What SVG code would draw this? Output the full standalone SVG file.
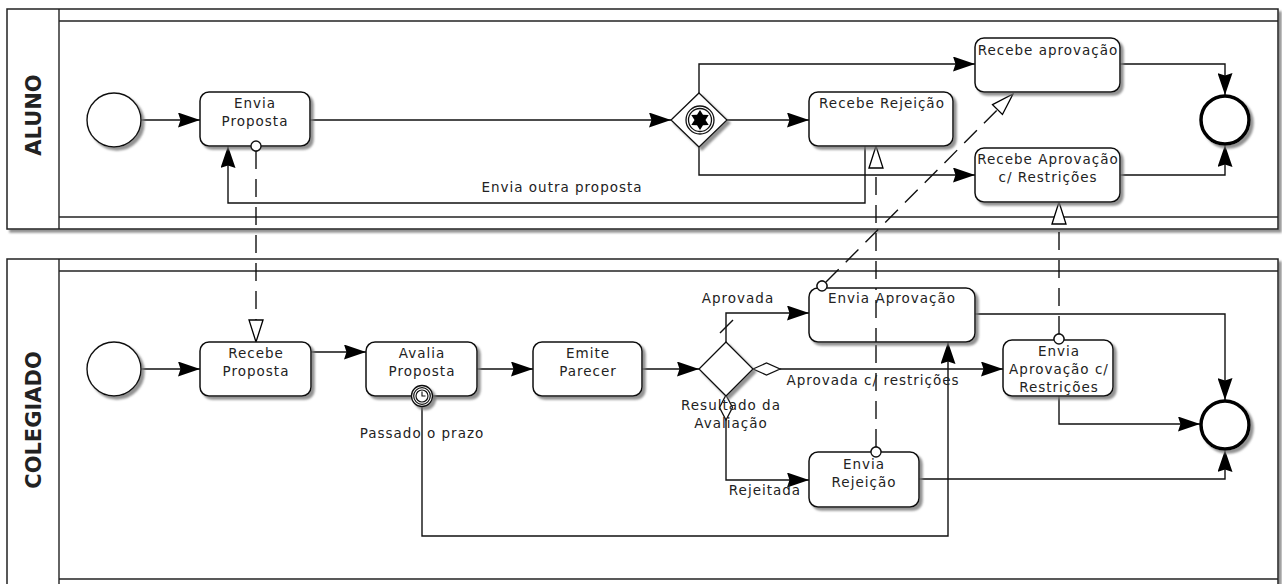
<svg xmlns="http://www.w3.org/2000/svg" width="1282" height="584" viewBox="0 0 1282 584">
<defs>
<filter id="sh" x="-20%" y="-20%" width="150%" height="150%">
<feDropShadow dx="3" dy="3" stdDeviation="1.2" flood-color="#777" flood-opacity="0.8"/>
</filter>
<marker id="arr" viewBox="0 0 22 15" refX="22" refY="7.5" markerWidth="22" markerHeight="15" markerUnits="userSpaceOnUse" orient="auto">
<path d="M0,0 L22,7.5 L0,15 L2.5,7.5 z" fill="#000"/>
</marker>
<marker id="msg" viewBox="0 0 24 16" refX="23" refY="8" markerWidth="24" markerHeight="16" markerUnits="userSpaceOnUse" orient="auto">
<path d="M1,1 L23,8 L1,15 z" fill="#fff" stroke="#000" stroke-width="1.3"/>
</marker>
</defs>
<style>
.pool{fill:#fff;stroke:#222;stroke-width:1.5}
.ln{fill:none;stroke:#222;stroke-width:1.4}
.task{fill:#fff;stroke:#111;stroke-width:1.5}
.flow{fill:none;stroke:#111;stroke-width:1.4}
.msgf{fill:none;stroke:#111;stroke-width:1.4;stroke-dasharray:18 10}
.t{font-family:"DejaVu Sans",sans-serif;font-size:13.5px;letter-spacing:1px;fill:#222;text-anchor:middle}
.lab{font-family:"DejaVu Sans",sans-serif;font-size:21px;font-weight:bold;fill:#222;text-anchor:middle}
.dot{fill:#fff;stroke:#111;stroke-width:1.3}
</style>
<rect width="1282" height="584" fill="#fff"/>
<!-- Pools -->
<g id="pool-aluno">
<rect class="pool" x="7" y="9" width="1271" height="220" filter="url(#sh)"/>
<line class="ln" x1="59" y1="9" x2="59" y2="229"/>
<line class="ln" x1="59" y1="21" x2="1278" y2="21"/>
<line class="ln" x1="59" y1="217" x2="1278" y2="217"/>
<text class="lab" transform="translate(41,115) rotate(-90)">ALUNO</text>
</g>
<g id="pool-colegiado">
<rect class="pool" x="7" y="259" width="1271" height="340" filter="url(#sh)"/>
<line class="ln" x1="59" y1="259" x2="59" y2="584"/>
<line class="ln" x1="59" y1="271" x2="1278" y2="271"/>
<line class="ln" x1="59" y1="579" x2="1278" y2="579"/>
<text class="lab" transform="translate(41,420) rotate(-90)">COLEGIADO</text>
</g>
<!-- Connectors -->
<g id="connectors">
<path class="flow" d="M141,120 H200" marker-end="url(#arr)"/>
<path class="flow" d="M310,120 H671" marker-end="url(#arr)"/>
<path class="flow" d="M699,93 V64 H975" marker-end="url(#arr)"/>
<path class="flow" d="M727,120 H809" marker-end="url(#arr)"/>
<path class="flow" d="M699,147 V175 H975" marker-end="url(#arr)"/>
<path class="flow" d="M865,146 V203 H228 V146" marker-end="url(#arr)"/>
<path class="flow" d="M1120,64 H1225 V95" marker-end="url(#arr)"/>
<path class="flow" d="M1120,175 H1225 V145" marker-end="url(#arr)"/>
<path class="flow" d="M141,369 H200" marker-end="url(#arr)"/>
<path class="flow" d="M311,352 H366" marker-end="url(#arr)"/>
<path class="flow" d="M477,369 H533" marker-end="url(#arr)"/>
<path class="flow" d="M642,369 H699" marker-end="url(#arr)"/>
<path class="flow" d="M726,342 V313 H809" marker-end="url(#arr)"/>
<line class="flow" x1="720" y1="333" x2="733" y2="320"/>
<path class="flow" d="M780,369 H1003" marker-end="url(#arr)"/>
<path d="M753,369 L766.5,363 L780,369 L766.5,375 z" fill="#fff" stroke="#111" stroke-width="1.3"/>
<path class="flow" d="M726,420 V480 H809" marker-end="url(#arr)"/>
<path d="M726,395 L732.5,407.5 L726,420 L719.5,407.5 z" fill="#fff" stroke="#111" stroke-width="1.3"/>
<path class="flow" d="M422,407 V536 H948 V342" marker-end="url(#arr)"/>
<path class="flow" d="M975,314 H1225 V400" marker-end="url(#arr)"/>
<path class="flow" d="M919,479 H1225 V450" marker-end="url(#arr)"/>
<path class="flow" d="M1059,396 V424 H1200" marker-end="url(#arr)"/>
<!-- message flows -->
<path class="msgf" d="M256,151 V342" marker-end="url(#msg)"/>
<path class="msgf" d="M876,447 V146" marker-end="url(#msg)"/>
<path class="msgf" d="M826,282 L1013,94" marker-end="url(#msg)"/>
<path class="msgf" d="M1059,334 V202" marker-end="url(#msg)"/>
<circle class="dot" cx="256" cy="146" r="5"/>
<circle class="dot" cx="876" cy="452" r="5"/>
<circle class="dot" cx="822" cy="286" r="5"/>
<circle class="dot" cx="1059" cy="339" r="5"/>
<text class="t" x="562" y="192">Envia outra proposta</text>
<text class="t" x="738" y="303">Aprovada</text>
<text class="t" x="873" y="385">Aprovada c/ restrições</text>
<text class="t" x="765" y="495">Rejeitada</text>
<text class="t" x="422" y="438">Passado o prazo</text>
</g>
<!-- ALUNO nodes -->
<g id="start-aluno"><circle cx="114" cy="120" r="27" fill="#fff" stroke="#111" stroke-width="1.4" filter="url(#sh)"/></g>
<g id="envia-proposta">
<rect class="task" x="200" y="92" width="110" height="54" rx="9" filter="url(#sh)"/>
<text class="t" x="255" y="108">Envia</text>
<text class="t" x="255" y="126">Proposta</text>
<circle class="dot" cx="256" cy="146" r="5"/>
</g>
<g id="gateway-aluno">
<path d="M699,93 L727,120 L699,147 L671,120 z" fill="#fff" stroke="#111" stroke-width="1.3" filter="url(#sh)"/>
<circle cx="700" cy="120" r="14" fill="none" stroke="#111" stroke-width="1.3"/>
<circle cx="700" cy="120" r="11.5" fill="none" stroke="#111" stroke-width="1.3"/>
<path d="M700,110 L703,114.8 L708.7,115 L705.5,120 L708.7,125 L703,125.2 L700,130 L697,125.2 L691.3,125 L694.5,120 L691.3,115 L697,114.8 z" fill="#000"/>
</g>
<g id="recebe-rejeicao">
<rect class="task" x="809" y="92" width="144" height="54" rx="9" filter="url(#sh)"/>
<text class="t" x="882" y="108">Recebe Rejeição</text>
</g>
<g id="recebe-aprovacao">
<rect class="task" x="975" y="38" width="145" height="54" rx="9" filter="url(#sh)"/>
<text class="t" x="1048" y="55">Recebe aprovação</text>
</g>
<g id="recebe-aprovacao-restricoes">
<rect class="task" x="975" y="148" width="145" height="54" rx="9" filter="url(#sh)"/>
<text class="t" x="1048" y="164">Recebe Aprovação</text>
<text class="t" x="1048" y="182">c/ Restrições</text>
</g>
<g id="end-aluno"><circle cx="1225" cy="120" r="24" fill="#fff" stroke="#000" stroke-width="3.5" filter="url(#sh)"/></g>
<!-- COLEGIADO nodes -->
<g id="start-colegiado"><circle cx="114" cy="369" r="27" fill="#fff" stroke="#111" stroke-width="1.4" filter="url(#sh)"/></g>
<g id="recebe-proposta">
<rect class="task" x="200" y="342" width="111" height="54" rx="9" filter="url(#sh)"/>
<text class="t" x="256" y="358">Recebe</text>
<text class="t" x="256" y="376">Proposta</text>
</g>
<g id="avalia-proposta">
<rect class="task" x="366" y="342" width="111" height="54" rx="9" filter="url(#sh)"/>
<text class="t" x="422" y="358">Avalia</text>
<text class="t" x="422" y="376">Proposta</text>
<g id="timer">
<circle cx="422" cy="396" r="10.5" fill="#fff" stroke="#111" stroke-width="1.3" filter="url(#sh)"/>
<circle cx="422" cy="396" r="8.3" fill="none" stroke="#111" stroke-width="1.2"/>
<circle cx="422" cy="396" r="6" fill="#fff" stroke="#111" stroke-width="1.2"/>
<path d="M422,391.5 V396 H425.5" fill="none" stroke="#111" stroke-width="1.1"/>
</g>
</g>
<g id="emite-parecer">
<rect class="task" x="533" y="342" width="109" height="54" rx="9" filter="url(#sh)"/>
<text class="t" x="588" y="358">Emite</text>
<text class="t" x="588" y="376">Parecer</text>
</g>
<g id="gateway-resultado">
<path d="M726,342 L753,369 L726,396 L699,369 z" fill="#fff" stroke="#111" stroke-width="1.3" filter="url(#sh)"/>
<text class="t" x="731" y="410">Resultado da</text>
<text class="t" x="731" y="428">Avaliação</text>
</g>
<g id="envia-aprovacao">
<rect class="task" x="809" y="288" width="166" height="54" rx="9" filter="url(#sh)"/>
<text class="t" x="892" y="303">Envia Aprovação</text>
<circle class="dot" cx="822" cy="286" r="5"/>
</g>
<g id="envia-rejeicao">
<rect class="task" x="809" y="452" width="110" height="55" rx="9" filter="url(#sh)"/>
<text class="t" x="864" y="469">Envia</text>
<text class="t" x="864" y="487">Rejeição</text>
<circle class="dot" cx="876" cy="452" r="5"/>
</g>
<g id="envia-aprovacao-restricoes">
<rect class="task" x="1003" y="340" width="110" height="56" rx="9" filter="url(#sh)"/>
<text class="t" x="1059" y="356">Envia</text>
<text class="t" x="1059" y="374">Aprovação c/</text>
<text class="t" x="1059" y="392">Restrições</text>
<circle class="dot" cx="1059" cy="339" r="5"/>
</g>
<g id="end-colegiado"><circle cx="1225" cy="425" r="24" fill="#fff" stroke="#000" stroke-width="3.5" filter="url(#sh)"/></g>
<!-- dashed message line visible across Envia Aprovação -->
<path class="msgf" d="M876,342 V288" stroke-dashoffset="4"/>
</svg>
